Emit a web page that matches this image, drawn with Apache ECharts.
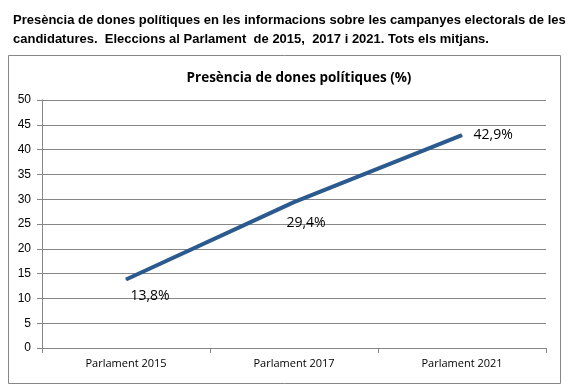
<!DOCTYPE html>
<html>
<head>
<meta charset="utf-8">
<script src="https://cdn.jsdelivr.net/npm/echarts@6/dist/echarts.min.js"></script>
<style>
  html, body { margin: 0; padding: 0; background: #fff; }
  #main { width: 579px; height: 387px; }
</style>
</head>
<body>
<div id="main"></div>
<script>
// dades
var categories = ['Parlament 2015', 'Parlament 2017', 'Parlament 2021'];
var values = [13.8, 29.4, 42.9];
var valueLabels = ['13,8%', '29,4%', '42,9%'];
var yTicks = [0, 5, 10, 15, 20, 25, 30, 35, 40, 45, 50];

var chart = echarts.init(document.getElementById('main'));

// posició de cada etiqueta (com a l'original)
var labelPos = [
  { position: 'bottom', offset: [24, 4] },
  { position: 'bottom', offset: [12, 8] },
  { position: 'right', offset: [6, 0] }
];

var option = {
  animation: false,
  title: [
    {
      text: 'Presència de dones polítiques en les informacions sobre les campanyes electorals de les\ncandidatures.  Eleccions al Parlament  de 2015,  2017 i 2021. Tots els mitjans.',
      left: 8, top: 6,
      textStyle: { fontFamily: 'Liberation Sans, Arial', fontSize: 13, fontWeight: 'bold', color: '#000', lineHeight: 19 }
    },
    {
      text: 'Presència de dones polítiques (%)',
      left: 294, top: 66, textAlign: 'center',
      textStyle: { fontFamily: 'Open Sans, Noto Sans', fontSize: 13.5, fontWeight: 'bold', color: '#000' }
    }
  ],
  graphic: [
    {
      type: 'rect', shape: { x: 8.5, y: 55.5, width: 552, height: 328 },
      style: { fill: 'none', stroke: '#868686', lineWidth: 1 }, silent: true, z: -1
    }
  ],
  grid: { left: 42, right: 33, top: 100, bottom: 39, containLabel: false },
  xAxis: {
    type: 'category',
    data: categories,
    boundaryGap: true,
    axisLine: { lineStyle: { color: '#868686' } },
    axisTick: { show: true, length: 5, lineStyle: { color: '#868686' } },
    axisLabel: { fontFamily: 'Open Sans, Noto Sans', fontSize: 11, color: '#000', margin: 10 }
  },
  yAxis: {
    type: 'value',
    min: yTicks[0], max: yTicks[yTicks.length - 1], interval: 5,
    axisLine: { show: true, lineStyle: { color: '#868686' } },
    axisTick: { show: true, length: 5, lineStyle: { color: '#868686' } },
    axisLabel: { fontFamily: 'Liberation Sans, Arial', fontSize: 12, color: '#000', margin: 11 },
    splitLine: { lineStyle: { color: '#868686' } }
  },
  series: [{
    type: 'line',
    data: values.map(function (v, i) {
      return {
        value: v,
        label: {
          show: true,
          position: labelPos[i].position,
          offset: labelPos[i].offset,
          formatter: valueLabels[i]
        }
      };
    }),
    symbol: 'circle',
    symbolSize: 1,
    showSymbol: true,
    itemStyle: { color: '#2B5A8F' },
    lineStyle: { color: '#2B5A8F', width: 4 },
    label: { show: true, fontFamily: 'Open Sans, Noto Sans', fontSize: 14, color: '#000' }
  }]
};

chart.setOption(option);
</script>
</body>
</html>
